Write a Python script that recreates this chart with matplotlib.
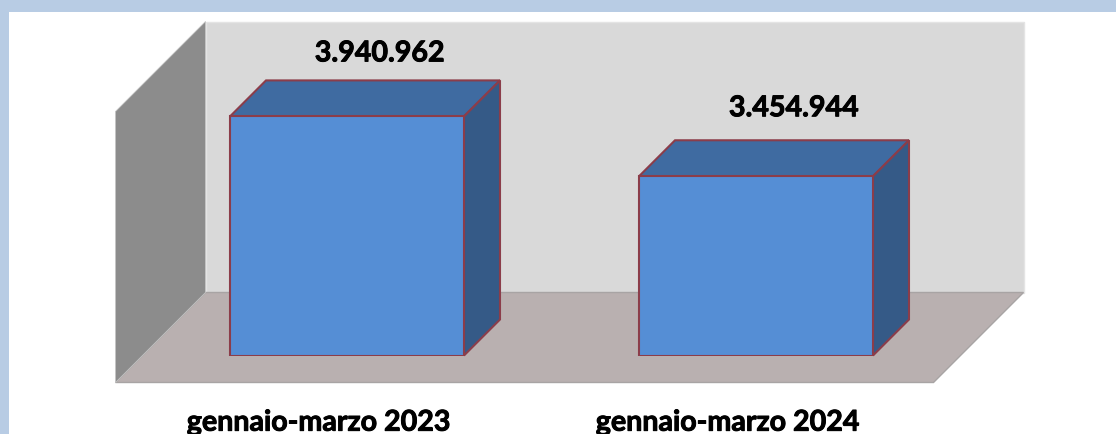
import matplotlib
matplotlib.use('Agg')
import matplotlib.pyplot as plt
import matplotlib.patheffects as pe
from matplotlib.patches import Polygon, Rectangle
from matplotlib.transforms import ScaledTranslation

# Data
categories = ['gennaio-marzo 2023', 'gennaio-marzo 2024']
values = [3940962, 3454944]
value_labels = ['3.940.962', '3.454.944']
y_min = 2000000
y_max = 4200000

W, H = 1116, 434
fig = plt.figure(figsize=(W / 100, H / 100), dpi=100, facecolor='white')

# light blue page border, top and left only
fig.add_artist(Rectangle((0, 1 - 12 / H), 1, 12 / H, transform=fig.transFigure, fc='#b8cce4', ec='none'))
fig.add_artist(Rectangle((0, 0), 9 / W, 1, transform=fig.transFigure, fc='#b8cce4', ec='none'))

# axes sit on the front plane of the bars
ax = fig.add_axes([142.5 / W, (H - 355.5) / H, 818 / W, 271 / H])
ax.set_xlim(-0.5, 1.5)
ax.set_ylim(y_min, y_max)
ax.patch.set_visible(False)
for s in ax.spines.values():
    s.set_visible(False)
ax.set_yticks([])

x_per_px = 2 / 818
y_per_px = (y_max - y_min) / 271


def depth(x, y, px):
    # oblique projection: going back moves up and right by the same pixels
    return (x + px * x_per_px, y + px * y_per_px)


def poly(points, color, edge='none', lw=0, z=1):
    ax.add_patch(Polygon(points, closed=True, fc=color, ec=edge, lw=lw, zorder=z,
                         clip_on=False, joinstyle='miter'))


# walls and floor
x0, x1 = ax.get_xlim()
front, back = -27, 63
edge_grey = '#c4c4c4'
poly([depth(x0, y_min, back), depth(x1, y_min, back), depth(x1, y_max, back), depth(x0, y_max, back)],
     '#d9d9d9', '#e4e4e4', 1, 1)
poly([depth(x0, y_min, front), depth(x1, y_min, front), depth(x1, y_min, back), depth(x0, y_min, back)],
     '#b9b0b0', '#a8a4a4', 1, 1.5)
poly([depth(x0, y_min, front), depth(x0, y_min, back), depth(x0, y_max, back), depth(x0, y_max, front)],
     '#8c8c8c', edge_grey, 0.6, 1.6)

# bars
bar_width = 234 / 409
bar_depth = 36
bar_edge = '#8b3d4a'
bar_lw = 1.5
xs = list(range(len(categories)))
bars = ax.bar(xs, [v - y_min for v in values], bottom=y_min, width=bar_width,
              color='#558ed5', edgecolor=bar_edge, linewidth=bar_lw, zorder=3)

for x, v in zip(xs, values):
    left, right = x - bar_width / 2, x + bar_width / 2
    # top face
    poly([(left, v), (right, v), depth(right, v, bar_depth), depth(left, v, bar_depth)],
         '#3f6ba1', bar_edge, bar_lw, 2)
    # side face
    poly([(right, y_min), depth(right, y_min, bar_depth), depth(right, v, bar_depth), (right, v)],
         '#355a87', bar_edge, bar_lw, 2)

# labels
font = 'Lato'
size = 20.6
thick = [pe.withStroke(linewidth=0.7, foreground='black')]
label_offsets = [(33, 63), (38, 68)]
for x, v, txt, off in zip(xs, values, value_labels, label_offsets):
    ax.annotate(txt, (x, v), xytext=(off[0] * 0.72, off[1] * 0.72), textcoords='offset points',
                ha='center', va='center', fontsize=size, fontweight='bold', family=font, color='black',
                path_effects=thick)

ax.set_xticks(xs)
ax.set_xticklabels(categories, fontsize=size, fontweight='bold', family=font, color='black',
                   path_effects=thick)
ax.tick_params(axis='x', length=0, pad=39)
shift = ScaledTranslation(-28 / 100, 0, fig.dpi_scale_trans)
for lab in ax.get_xticklabels():
    lab.set_transform(lab.get_transform() + shift)

plt.savefig('out.png', dpi=100)
